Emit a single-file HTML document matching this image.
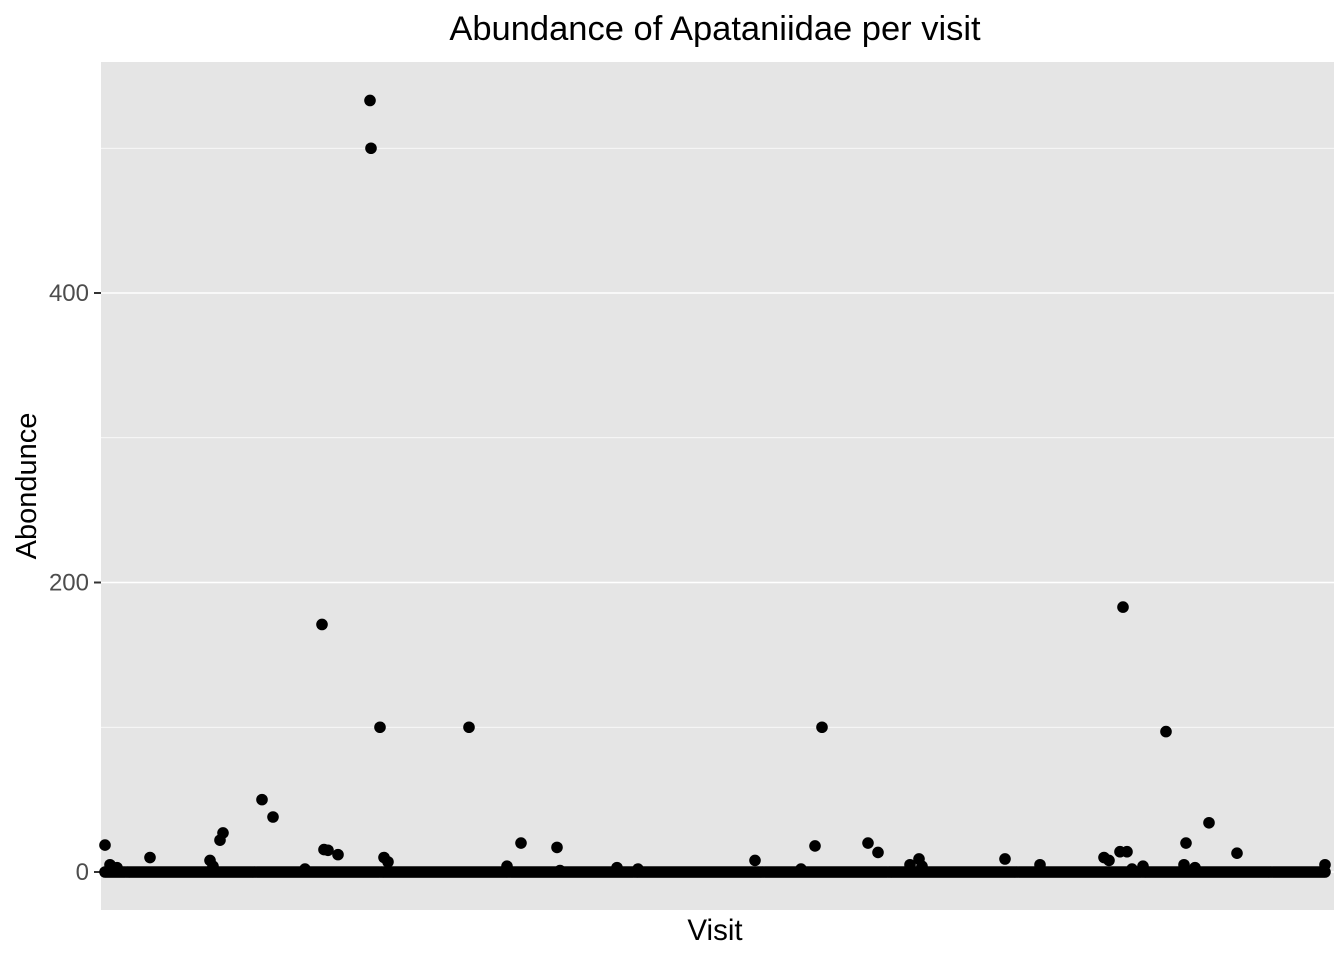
<!DOCTYPE html>
<html><head><meta charset="utf-8"><style>
body{margin:0;background:#fff}
svg text{font-family:"Liberation Sans",Arial,sans-serif}
</style></head><body>
<svg id="chart" width="1344" height="960">
<rect x="0" y="0" width="1344" height="960" fill="#fff"/>
<rect x="101" y="62" width="1233" height="848" fill="#e5e5e5"/>
<g id="grid"></g><g id="ticks"></g><g id="points"></g>
<text x="715" y="40" text-anchor="middle" font-size="34.5" fill="#000">Abundance of Apataniidae per visit</text>
<text x="715" y="940" text-anchor="middle" font-size="29.5" fill="#000">Visit</text>
<text transform="translate(36,486) rotate(-90)" text-anchor="middle" font-size="29" fill="#000">Abondunce</text>
</svg>
<script>
const nVisits = 611;
const yTicks = [0, 200, 400];
const yTickLabels = ["0", "200", "400"];
const yMinor = [100, 300, 500];
const visits = [0,2.5,6,22.5,52.5,54,57.5,59,78.5,84,100,108.5,109.5,111.5,116.5,132.5,133,137.5,139.5,141.5,182,201,208,226,227.5,256,266.5,325,348,355,358.5,381.5,386.5,402.5,407,408.5,450,467.5,499.5,502,507.5,509,511,513.5,519,530.5,539.5,540.5,545,552,566,610];
const abund = [18.6,5,3,10,8,4,22,27,50,38,2,171,15.5,15,12,533,500,100,10,7,100,4,20,17,1,3,2,8,2,18,100,20,13.5,5,9,4,9,5,10,8,14,183,14,2,4,97,5,20,3,34,13,5];
const NS='http://www.w3.org/2000/svg';
const x0=105,x1=1325,yBase=872,yPer=289.5/200;
const xs=v=>x0+(v/(nVisits-1))*(x1-x0);
const ys=v=>yBase-v*yPer;
const grid=document.getElementById('grid'),ticks=document.getElementById('ticks'),pts=document.getElementById('points');
function ln(p,x1_,y1_,x2_,y2_,c,w,name){const l=document.createElementNS(NS,'line');l.setAttribute('x1',x1_);l.setAttribute('y1',y1_);l.setAttribute('x2',x2_);l.setAttribute('y2',y2_);l.setAttribute('stroke',c);l.setAttribute('stroke-width',w);


p.appendChild(l);}
yMinor.forEach(v=>ln(grid,101,ys(v),1334,ys(v),'#fff',0.8,'minor-gridline'));
yTicks.forEach((v,i)=>{ln(grid,101,ys(v),1334,ys(v),'#fff',1.6,'major-gridline');
ln(ticks,94,ys(v),101,ys(v),'#333',2,'y-tick');
const t=document.createElementNS(NS,'text');t.setAttribute('x',89);t.setAttribute('y',ys(v)+8);t.setAttribute('text-anchor','end');t.setAttribute('font-size','24');t.setAttribute('fill','#4d4d4d');t.textContent=yTickLabels[i];


ticks.appendChild(t);});
function dot(v,a){const c=document.createElementNS(NS,'circle');c.setAttribute('cx',xs(v));c.setAttribute('cy',ys(a));c.setAttribute('r',5.8);c.setAttribute('fill','#000');


pts.appendChild(c);}
for(let v=0;v<nVisits;v++)dot(v,0);
visits.forEach((v,i)=>dot(v,abund[i]));
</script>
</body></html>
